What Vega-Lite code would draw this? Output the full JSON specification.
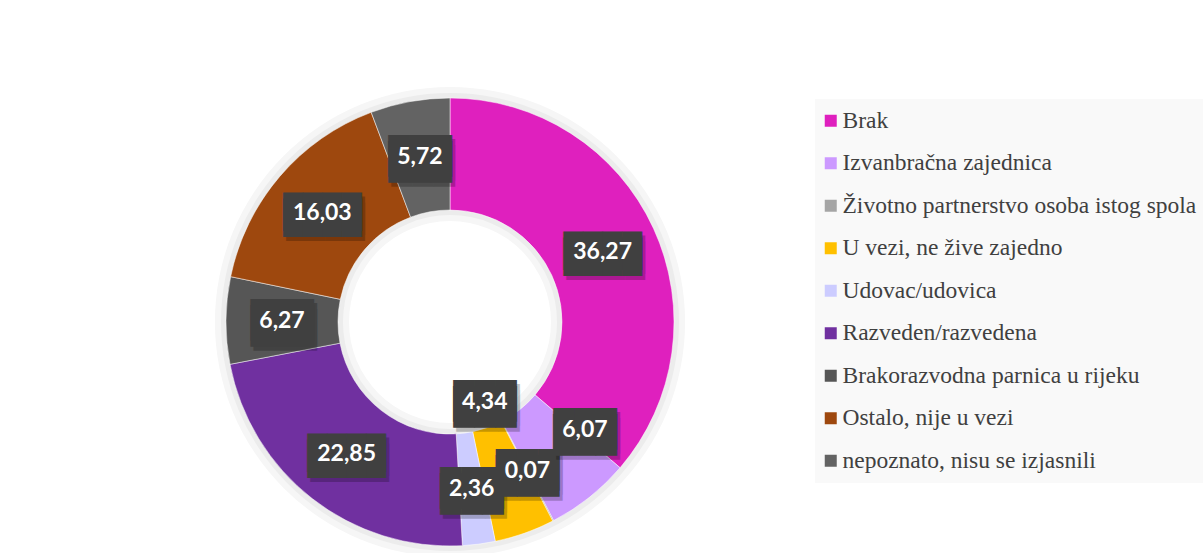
{
  "$schema": "https://vega.github.io/schema/vega-lite/v6.json",
  "width": 892,
  "height": 462,
  "autosize": {"type": "none"},
  "padding": {"left": 4, "top": 91, "right": 307, "bottom": 0},
  "background": "white",
  "config": {
    "view": {"stroke": null},
    "locale": {"number": {"decimal": ",", "thousands": ".", "grouping": [3], "currency": ["", " €"]}}
  },
  "data": {
    "values": [
      {"category": "Brak", "value": 36.27},
      {"category": "Izvanbračna zajednica", "value": 6.07},
      {"category": "Životno partnerstvo osoba istog spola", "value": 0.07},
      {"category": "U vezi, ne žive zajedno", "value": 4.34},
      {"category": "Udovac/udovica", "value": 2.36},
      {"category": "Razveden/razvedena", "value": 22.85},
      {"category": "Brakorazvodna parnica u rijeku", "value": 6.27},
      {"category": "Ostalo, nije u vezi", "value": 16.03},
      {"category": "nepoznato, nisu se izjasnili", "value": 5.72}
    ]
  },
  "transform": [
    {"calculate": "indexof(['Brak', 'Izvanbračna zajednica', 'Životno partnerstvo osoba istog spola', 'U vezi, ne žive zajedno', 'Udovac/udovica', 'Razveden/razvedena', 'Brakorazvodna parnica u rijeku', 'Ostalo, nije u vezi', 'nepoznato, nisu se izjasnili'], datum.category)", "as": "idx"}
  ],
  "encoding": {
    "theta": {"field": "value", "type": "quantitative", "stack": true},
    "order": {"field": "idx", "type": "quantitative", "sort": "ascending"},
    "color": {
      "field": "category",
      "type": "nominal",
      "sort": ["Brak", "Izvanbračna zajednica", "Životno partnerstvo osoba istog spola", "U vezi, ne žive zajedno", "Udovac/udovica", "Razveden/razvedena", "Brakorazvodna parnica u rijeku", "Ostalo, nije u vezi", "nepoznato, nisu se izjasnili"],
      "scale": {
        "domain": ["Brak", "Izvanbračna zajednica", "Životno partnerstvo osoba istog spola", "U vezi, ne žive zajedno", "Udovac/udovica", "Razveden/razvedena", "Brakorazvodna parnica u rijeku", "Ostalo, nije u vezi", "nepoznato, nisu se izjasnili"],
        "range": ["#DF20BE", "#CC99FF", "#A5A5A5", "#FFC000", "#CCCCFF", "#7030A0", "#565656", "#9E480E", "#636363"]
      },
      "legend": {
        "title": null,
        "orient": "none",
        "legendX": 811,
        "legendY": 8,
        "fillColor": "#F9F9F9",
        "padding": 10,
        "symbolType": "square",
        "symbolSize": 144,
        "symbolStrokeWidth": 0,
        "symbolOpacity": 1,
        "symbolOffset": -6,
        "labelFont": "Liberation Serif",
        "labelFontSize": 23.5,
        "labelColor": "#404040",
        "labelLimit": 800,
        "labelOffset": 0,
        "rowPadding": 17.5
      }
    }
  },
  "layer": [
    {
      "transform": [{"aggregate": [{"op": "count", "as": "n"}]}],
      "mark": {"type": "arc", "theta": 0, "theta2": 6.2832, "radius": 235, "radius2": 101, "fill": "#F6F6F6"},
      "encoding": {"theta": null, "color": null, "order": null}
    },
    {
      "transform": [{"aggregate": [{"op": "count", "as": "n"}]}],
      "mark": {"type": "arc", "theta": 0, "theta2": 6.2832, "radius": 229, "radius2": 107, "fill": "#ECECEC"},
      "encoding": {"theta": null, "color": null, "order": null}
    },
    {
      "mark": {"type": "arc", "radius": 224, "radius2": 112, "stroke": "#FFFFFF", "strokeWidth": 0.5}
    },
    {
      "mark": {"type": "text", "radius": 168, "font": "DejaVu Sans Mono", "baseline": "middle", "align": "center", "lineHeight": 6, "dx": 3, "dy": 4},
      "encoding": {
        "fill": {"value": "#000000"},
        "opacity": {"value": 0.22},
        "size": {"condition": {"test": "datum.value >= 10", "value": 32.5}, "value": 35},
        "text": {"condition": [{"test": "datum.category === 'Izvanbračna zajednica' || datum.category === 'U vezi, ne žive zajedno'", "value": ""}, {"test": "datum.value >= 10", "value": ["████", "████"]}], "value": ["███", "███"]}
      }
    },
    {
      "mark": {"type": "text", "radius": 168, "font": "DejaVu Sans Mono", "baseline": "middle", "align": "center", "lineHeight": 6},
      "encoding": {
        "fill": {"value": "#404040"},
        "size": {"condition": {"test": "datum.value >= 10", "value": 32.5}, "value": 35},
        "text": {"condition": [{"test": "datum.category === 'Izvanbračna zajednica' || datum.category === 'U vezi, ne žive zajedno'", "value": ""}, {"test": "datum.value >= 10", "value": ["████", "████"]}], "value": ["███", "███"]}
      }
    },
    {
      "mark": {"type": "text", "radius": 168, "font": "Lato", "fontWeight": "bold", "fontSize": 23, "baseline": "middle", "align": "center"},
      "encoding": {
        "fill": {"value": "#FFFFFF"},
        "text": {"condition": {"test": "datum.category === 'Izvanbračna zajednica' || datum.category === 'U vezi, ne žive zajedno'", "value": ""}, "field": "value", "type": "quantitative", "format": ".2f"}
      }
    },
    {
      "mark": {"type": "text", "radius": 173, "thetaOffset": -0.2234, "font": "DejaVu Sans Mono", "fontSize": 35, "baseline": "middle", "align": "center", "lineHeight": 6, "dx": 3, "dy": 4},
      "encoding": {
        "fill": {"value": "#000000"},
        "opacity": {"value": 0.22},
        "text": {"condition": {"test": "datum.category === 'Izvanbračna zajednica'", "value": ["███", "███"]}, "value": ""}
      }
    },
    {
      "mark": {"type": "text", "radius": 173, "thetaOffset": -0.2234, "font": "DejaVu Sans Mono", "fontSize": 35, "baseline": "middle", "align": "center", "lineHeight": 6},
      "encoding": {
        "fill": {"value": "#404040"},
        "text": {"condition": {"test": "datum.category === 'Izvanbračna zajednica'", "value": ["███", "███"]}, "value": ""}
      }
    },
    {
      "mark": {"type": "text", "radius": 173, "thetaOffset": -0.2234, "font": "Lato", "fontWeight": "bold", "fontSize": 23, "baseline": "middle", "align": "center"},
      "encoding": {
        "fill": {"value": "#FFFFFF"},
        "text": {"condition": {"test": "datum.category !== 'Izvanbračna zajednica'", "value": ""}, "field": "value", "type": "quantitative", "format": ".2f"}
      }
    },
    {
      "mark": {"type": "text", "radius": 87, "thetaOffset": -0.0716, "font": "DejaVu Sans Mono", "fontSize": 35, "baseline": "middle", "align": "center", "lineHeight": 6, "dx": 3, "dy": 4},
      "encoding": {
        "fill": {"value": "#000000"},
        "opacity": {"value": 0.22},
        "text": {"condition": {"test": "datum.category === 'U vezi, ne žive zajedno'", "value": ["███", "███"]}, "value": ""}
      }
    },
    {
      "mark": {"type": "text", "radius": 87, "thetaOffset": -0.0716, "font": "DejaVu Sans Mono", "fontSize": 35, "baseline": "middle", "align": "center", "lineHeight": 6},
      "encoding": {
        "fill": {"value": "#404040"},
        "text": {"condition": {"test": "datum.category === 'U vezi, ne žive zajedno'", "value": ["███", "███"]}, "value": ""}
      }
    },
    {
      "mark": {"type": "text", "radius": 87, "thetaOffset": -0.0716, "font": "Lato", "fontWeight": "bold", "fontSize": 23, "baseline": "middle", "align": "center"},
      "encoding": {
        "fill": {"value": "#FFFFFF"},
        "text": {"condition": {"test": "datum.category !== 'U vezi, ne žive zajedno'", "value": ""}, "field": "value", "type": "quantitative", "format": ".2f"}
      }
    }
  ]
}
